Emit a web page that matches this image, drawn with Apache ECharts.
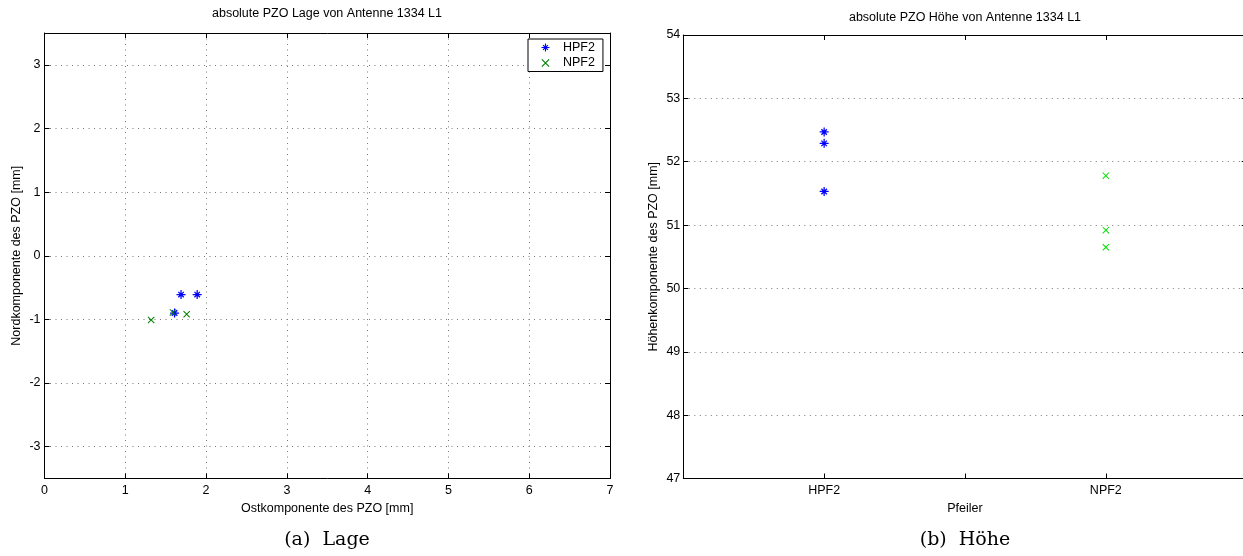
<!DOCTYPE html>
<html>
<head>
<meta charset="utf-8">
<title>absolute PZO von Antenne 1334 L1</title>
<script src="https://cdn.jsdelivr.net/npm/echarts@6/dist/echarts.min.js"></script>
<style>
  html, body { margin: 0; padding: 0; background: #fff; }
  #chart { width: 1243px; height: 556px; }
</style>
</head>
<body>
<div id="chart"></div>
<script>
// Lage: Ost- und Nordkomponente des PZO [mm]
const lageOstHPF2 = [1.69, 1.89, 1.61];
const lageNordHPF2 = [-0.61, -0.61, -0.90];
const lageOstNPF2 = [1.59, 1.76, 1.32];
const lageNordNPF2 = [-0.89, -0.92, -1.01];

// Höhe: Höhenkomponente des PZO [mm] je Pfeiler
const pfeiler = ['HPF2', 'NPF2'];
const hoeheHPF2 = [52.47, 52.29, 51.53];
const hoeheNPF2 = [51.78, 50.92, 50.65];

const FONT = '"Liberation Sans", Arial, Helvetica, sans-serif';
const FS = 12.5;

// asterisk and cross markers built from filled bars
const STAR = 'path://M0 8.6L20 8.6L20 11.4L0 11.4Z M8.6 0L11.4 0L11.4 20L8.6 20Z ' +
  'M4.9 2.9L17.1 15.1L15.1 17.1L2.9 4.9Z M17.1 4.9L4.9 17.1L2.9 15.1L15.1 2.9Z';
const CROSS = 'path://M2 0L20 18L18 20L0 2Z M18 0L20 2L2 20L0 18Z';

const pairs = (xs, ys) => xs.map((x, i) => [x, ys[i]]);
const atPfeiler = (idx, ys) => ys.map(y => [idx + 1, y]);

const gridLine = { show: true, lineStyle: { color: '#7a7a7a', type: [1, 4.5], width: 1 } };
const frameLine = { show: true, onZero: false, lineStyle: { color: '#000', width: 1 } };
const innerTick = { show: true, inside: true, length: 5, lineStyle: { color: '#000', width: 1 } };
const labelStyle = { color: '#000', fontSize: FS, fontFamily: FONT };
const nameStyle = { color: '#000', fontSize: FS, fontFamily: FONT };

const option = {
  animation: false,
  backgroundColor: '#fff',
  grid: [
    { left: 44.5, top: 33, width: 565.5, height: 445.5, show: false, outerBoundsMode: 'none' },
    { left: 683.3, top: 35, width: 563.4, height: 443.5, show: false, outerBoundsMode: 'none' }
  ],
  graphic: [
    { type: 'text', x: 327, y: 14, style: { text: 'absolute PZO Lage von Antenne 1334 L1', align: 'center', verticalAlign: 'middle', font: FS + 'px ' + FONT, fill: '#000' } },
    { type: 'text', x: 965, y: 18, style: { text: 'absolute PZO Höhe von Antenne 1334 L1', align: 'center', verticalAlign: 'middle', font: FS + 'px ' + FONT, fill: '#000' } },
    { type: 'text', x: 327, y: 540, style: { text: '(a)  Lage', align: 'center', verticalAlign: 'middle', font: '19px "DejaVu Serif", serif', fill: '#000' } },
    { type: 'text', x: 965, y: 540, style: { text: '(b)  Höhe', align: 'center', verticalAlign: 'middle', font: '19px "DejaVu Serif", serif', fill: '#000' } }
  ],
  legend: {
    data: ['HPF2', 'NPF2'],
    orient: 'vertical',
    left: 528,
    top: 39,
    itemWidth: 8,
    itemHeight: 8,
    itemGap: 2.5,
    padding: [2, 8, 2, 13.5],
    backgroundColor: '#fff',
    borderColor: '#000',
    borderWidth: 1,
    borderRadius: 0,
    selectedMode: false,
    textStyle: { color: '#000', fontSize: FS, fontFamily: FONT, lineHeight: 13, padding: [0, 0, 0, 8.5] }
  },
  xAxis: [
    {
      gridIndex: 0, type: 'value', position: 'bottom', min: 0, max: 7, interval: 1,
      axisLine: frameLine, axisTick: innerTick, splitLine: gridLine,
      axisLabel: Object.assign({ margin: 6 }, labelStyle),
      name: 'Ostkomponente des PZO [mm]', nameLocation: 'middle', nameGap: 20, nameTextStyle: nameStyle
    },
    {
      gridIndex: 0, type: 'value', position: 'top', min: 0, max: 7, interval: 1,
      axisLine: frameLine, axisTick: innerTick, splitLine: { show: false }, axisLabel: { show: false }
    },
    {
      gridIndex: 1, type: 'value', position: 'bottom', min: 0.5, max: 2.5, interval: 0.5,
      axisLine: frameLine, axisTick: innerTick, splitLine: { show: false },
      axisLabel: Object.assign({
        margin: 6,
        formatter: v => (Number.isInteger(v) && pfeiler[v - 1]) ? pfeiler[v - 1] : ''
      }, labelStyle),
      name: 'Pfeiler', nameLocation: 'middle', nameGap: 22, nameTextStyle: nameStyle
    },
    {
      gridIndex: 1, type: 'value', position: 'top', min: 0.5, max: 2.5, interval: 0.5,
      axisLine: frameLine, axisTick: innerTick, splitLine: { show: false }, axisLabel: { show: false }
    }
  ],
  yAxis: [
    {
      gridIndex: 0, type: 'value', position: 'left', min: -3.5, max: 3.5, splitNumber: 7,
      axisLine: frameLine, axisTick: innerTick, splitLine: gridLine,
      axisLabel: Object.assign({ margin: 4, showMinLabel: false, showMaxLabel: false }, labelStyle),
      name: 'Nordkomponente des PZO [mm]', nameLocation: 'middle', nameGap: 21, nameTextStyle: nameStyle
    },
    {
      gridIndex: 0, type: 'value', position: 'right', min: -3.5, max: 3.5, splitNumber: 7,
      axisLine: frameLine, axisTick: innerTick, splitLine: { show: false }, axisLabel: { show: false }
    },
    {
      gridIndex: 1, type: 'value', position: 'left', min: 47, max: 54, interval: 1,
      axisLine: frameLine, axisTick: innerTick, splitLine: gridLine,
      axisLabel: Object.assign({ margin: 3 }, labelStyle),
      name: 'Höhenkomponente des PZO [mm]', nameLocation: 'middle', nameGap: 23, nameTextStyle: nameStyle
    },
    {
      gridIndex: 1, type: 'value', position: 'right', min: 47, max: 54, interval: 1,
      axisLine: frameLine, axisTick: innerTick, splitLine: { show: false }, axisLabel: { show: false }
    }
  ],
  series: [
    {
      name: 'HPF2', type: 'scatter', xAxisIndex: 0, yAxisIndex: 0,
      symbol: STAR, symbolSize: 9, itemStyle: { color: '#0000ff', opacity: 1 },
      data: pairs(lageOstHPF2, lageNordHPF2), z: 3
    },
    {
      name: 'NPF2', type: 'scatter', xAxisIndex: 0, yAxisIndex: 0,
      symbol: CROSS, symbolSize: 7, itemStyle: { color: '#008000', opacity: 1 },
      data: pairs(lageOstNPF2, lageNordNPF2), z: 3
    },
    {
      name: 'HPF2', type: 'scatter', xAxisIndex: 2, yAxisIndex: 2,
      symbol: STAR, symbolSize: 9, itemStyle: { color: '#0000ff', opacity: 1 },
      data: atPfeiler(0, hoeheHPF2), z: 3
    },
    {
      name: 'NPF2', type: 'scatter', xAxisIndex: 2, yAxisIndex: 2,
      symbol: CROSS, symbolSize: 7, itemStyle: { color: '#00e000', opacity: 1 },
      data: atPfeiler(1, hoeheNPF2), z: 3
    }
  ]
};

const chart = echarts.init(document.getElementById('chart'), null, { renderer: 'canvas' });
chart.setOption(option);
</script>
</body>
</html>
